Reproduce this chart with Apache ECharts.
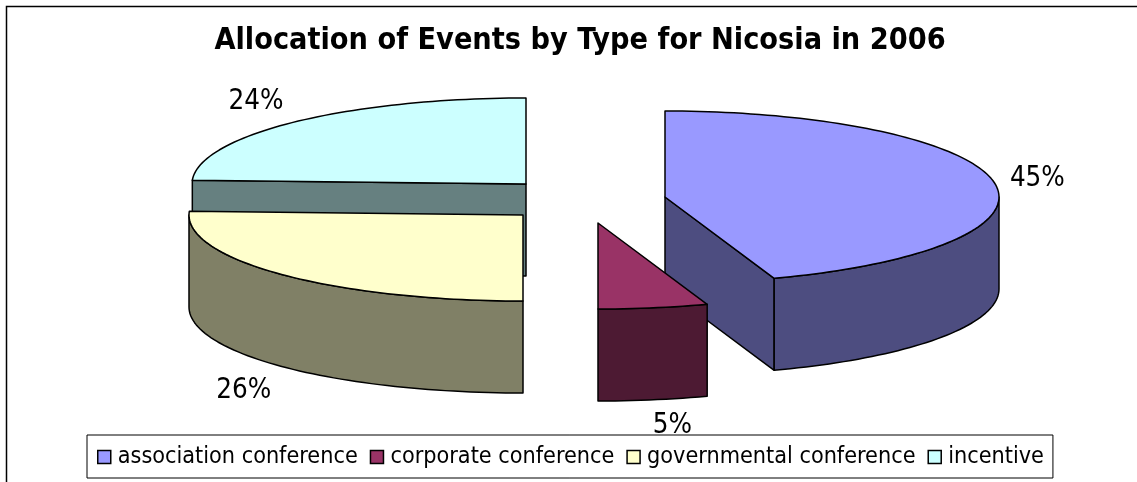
<!DOCTYPE html>
<html>
<head>
<meta charset="utf-8">
<style>
  html, body { margin: 0; padding: 0; background: #fff; }
  #chart { width: 1137px; height: 482px; }
</style>
<script src="https://cdn.jsdelivr.net/npm/echarts@6/dist/echarts.min.js"></script>
</head>
<body>
<div id="chart"></div>
<script>
var titleText = 'Allocation of Events by Type for Nicosia in 2006';
var categories = ['association conference', 'corporate conference', 'governmental conference', 'incentive'];
var shares = [44.7, 5.3, 25.7, 24.3];
var topColors = ['#9999FF', '#993366', '#FFFFCC', '#CCFFFF'];
var sideColors = ['#4D4D80', '#4D1A33', '#808066', '#668080'];

// where each exploded slice sits and where its percent label goes
var pieCenters = [[665, 197], [598, 223], [523, 215], [526, 184]];
var labelOffsets = [[43, -4], [19, 26], [-38, 24], [-39, -20]];
var drawOrder = [3, 4, 2, 1];
var radiusX = 334;
var radiusY = 86;
var depth = 92;
var fontName = 'DejaVu Sans Condensed';

var total = shares.reduce(function (a, b) { return a + b; }, 0);

function pointAt(c, deg, drop) {
  var r = deg * Math.PI / 180;
  return [c[0] + radiusX * Math.sin(r), c[1] - radiusY * Math.cos(r) + (drop || 0)];
}

function arcPoints(c, from, to, drop) {
  var pts = [];
  var n = Math.max(2, Math.ceil(Math.abs(to - from) / 1.5));
  for (var i = 0; i <= n; i++) {
    pts.push(pointAt(c, from + (to - from) * i / n, drop));
  }
  return pts;
}

function face(points, color) {
  return {
    type: 'polygon',
    shape: { points: points },
    style: { fill: color, stroke: '#000', lineWidth: 1.5, lineJoin: 'round' }
  };
}

function sliceRange(index) {
  var before = 0;
  for (var i = 0; i < index; i++) before += shares[i];
  return [before / total * 360, (before + shares[index]) / total * 360];
}

function cutFace(c, deg, color) {
  return face([c, pointAt(c, deg), pointAt(c, deg, depth), [c[0], c[1] + depth]], color);
}

function renderSlice(index) {
  return function () {
    var c = pieCenters[index];
    var range = sliceRange(index);
    var start = range[0], end = range[1];
    var midAngle = (start + end) / 2;
    var kids = [];

    // cut faces that look toward the viewer
    if (end > 0 && end < 180) kids.push(cutFace(c, end, sideColors[index]));
    if (start > 180 && start < 360) kids.push(cutFace(c, start, sideColors[index]));

    // outer wall, only the front half of the rim
    var wallFrom = Math.max(start, 90);
    var wallTo = Math.min(end, 270);
    if (wallTo > wallFrom) {
      var wall = arcPoints(c, wallFrom, wallTo, 0).concat(arcPoints(c, wallTo, wallFrom, depth));
      kids.push(face(wall, sideColors[index]));
    }

    kids.push(face([c].concat(arcPoints(c, start, end, 0)), topColors[index]));

    var mid = pointAt(c, midAngle);
    var off = labelOffsets[index];
    kids.push({
      type: 'text',
      style: {
        x: mid[0] + off[0],
        y: mid[1] + off[1] + (midAngle > 90 && midAngle < 270 ? depth : 0),
        text: Math.round(shares[index]) + '%',
        fill: '#000',
        font: '27.5px "' + fontName + '"',
        align: 'center',
        verticalAlign: 'middle'
      }
    });
    return { type: 'group', children: kids };
  };
}

var series = categories.map(function (name, i) {
  return {
    type: 'custom',
    name: name,
    coordinateSystem: 'none',
    silent: true,
    z: drawOrder[i],
    clip: false,
    itemStyle: { color: topColors[i] },
    data: [shares[i]],
    renderItem: renderSlice(i)
  };
});

var chart = echarts.init(document.getElementById('chart'), null, { renderer: 'canvas' });
chart.setOption({
  animation: false,
  backgroundColor: '#fff',
  title: {
    text: titleText,
    left: 575,
    textAlign: 'center',
    top: 21,
    textStyle: { fontFamily: fontName, fontWeight: 'bold', fontSize: 30.3, color: '#000' }
  },
  legend: {
    data: categories,
    left: 87,
    top: 435,
    z: 10,
    orient: 'horizontal',
    padding: [9, 9, 8, 10],
    itemGap: 12,
    itemWidth: 13,
    itemHeight: 13,
    backgroundColor: '#fff',
    borderColor: '#000',
    borderWidth: 1,
    icon: 'rect',
    itemStyle: { borderColor: '#000', borderWidth: 1.5 },
    textStyle: { fontFamily: fontName, fontSize: 23.2, color: '#000', lineHeight: 26, padding: [0, 0, 0, 2] }
  },
  graphic: [{
    type: 'polyline',
    z: 0,
    silent: true,
    shape: { points: [[6.5, 482], [6.5, 6.5], [1137, 6.5]] },
    style: { fill: 'none', stroke: '#000', lineWidth: 1.5 }
  }],
  series: series
});
</script>
</body>
</html>
